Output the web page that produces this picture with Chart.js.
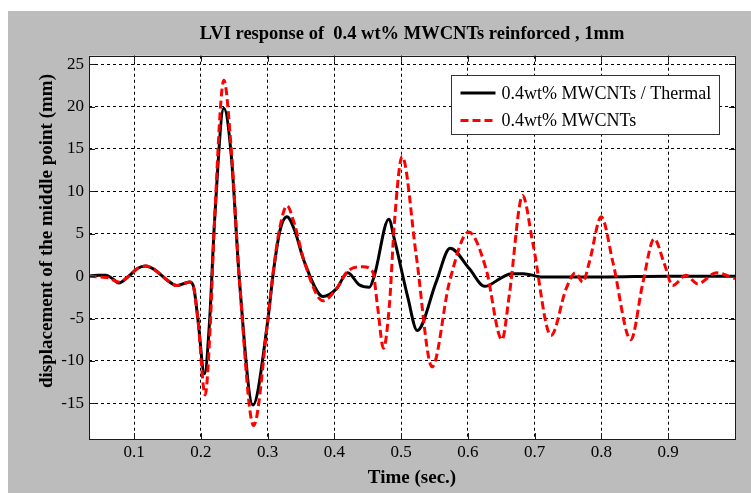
<!DOCTYPE html>
<html>
<head>
<meta charset="utf-8">
<title>LVI response</title>
<script src="https://cdn.jsdelivr.net/npm/chart.js@4.4.1/dist/chart.umd.min.js"></script>
<style>
  html, body { margin: 0; padding: 0; background: #fff; }
  #chart-box { width: 751px; height: 493px; }
</style>
</head>
<body>
<div id="chart-box"><canvas id="lvi-chart" width="751" height="493"></canvas></div>
<script>
/* -------------  DATA  ------------- */

const seriesLabels = ['0.4wt% MWCNTs / Thermal', '0.4wt% MWCNTs'];
const yAxisLabel = 'displacement of the middle point (mm)';

// thermal case (solid black)
const timeThermal = [0.032, 0.045, 0.058, 0.068, 0.077, 0.092, 0.105, 0.117, 0.13, 0.147,
  0.164, 0.177, 0.183, 0.189, 0.1955, 0.2055, 0.213, 0.2205, 0.2345, 0.2455,
  0.258, 0.278, 0.300, 0.308, 0.318, 0.329, 0.34, 0.355, 0.383, 0.403,
  0.420, 0.437, 0.4525, 0.46, 0.4815, 0.49, 0.51, 0.524, 0.5524, 0.5733,
  0.602, 0.625, 0.652, 0.665, 0.683, 0.712, 0.8, 0.9, 1.0];
const dispThermal = [0, 0.1, 0.1, -0.3, -0.8, 0, 0.9, 1.2, 0.8, -0.3,
  -1.1, -0.8, -0.7, -1.2, -5, -11.5, -5.4, 6.4, 19.8, 14.3,
  -0.7, -15.2, -5.4, 0.1, 5.2, 7.0, 5.5, 1.7, -2.4, -1.5,
  0.4, -1.0, -1.3, 0.1, 6.7, 4.3, -2.5, -6.4, -0.7, 3.3,
  0.9, -1.2, -0.1, 0.3, 0.3, -0.1, -0.1, 0, 0];

// case without thermal load (dashed red)
const timePlain = [0.032, 0.05, 0.062, 0.077, 0.092, 0.105, 0.117, 0.13, 0.147, 0.164,
  0.177, 0.183, 0.189, 0.1955, 0.2065, 0.214, 0.2205, 0.2345, 0.2455, 0.258,
  0.279, 0.300, 0.308, 0.318, 0.329, 0.34, 0.355, 0.383, 0.403, 0.42,
  0.4425, 0.4575, 0.465, 0.4735, 0.4825, 0.49, 0.5015, 0.5225, 0.5464, 0.5723,
  0.6012, 0.627, 0.651, 0.662, 0.682, 0.697, 0.7245, 0.747, 0.761, 0.772,
  0.782, 0.7997, 0.817, 0.844, 0.8617, 0.879, 0.894, 0.9066, 0.9266, 0.944,
  0.972, 1.0];
const dispPlain = [0, -0.1, -0.2, -0.7, 0, 0.9, 1.2, 0.8, -0.3, -1.1,
  -0.8, -0.7, -1.3, -5, -14.0, -6, 6.5, 23.1, 15, -0.7,
  -17.6, -5.4, 0.3, 5.6, 8.3, 6.2, 1.7, -2.9, -1.5, 0.6,
  1.1, 0.5, -3.8, -8.5, -3.3, 6.4, 14.1, 2.5, -10.7, -0.7,
  5.2, 0.9, -7.5, -2.2, 9.5, 4.0, -7.0, -1.5, 0.4, -0.7,
  1.7, 7.0, 1.7, -7.5, -0.9, 4.4, 1.5, -1.1, 0.1, -0.9,
  0.4, -0.3];

const xTicks = [0.1, 0.2, 0.3, 0.4, 0.5, 0.6, 0.7, 0.8, 0.9];
const yTicks = [-15, -10, -5, 0, 5, 10, 15, 20, 25];

const FONT = "'Liberation Serif', 'Times New Roman', serif";

/* -------------  HELPERS  ------------- */

function toPoints(times, values) {
  return times.map((t, i) => ({ x: t, y: values[i] }));
}

/**
 * Gray figure background, white axes area.
 */
const figureBackground = {
  id: 'figureBackground',
  beforeDraw(chart) {
    const { ctx, chartArea: a } = chart;
    ctx.save();
    ctx.fillStyle = '#fff';
    ctx.fillRect(0, 0, chart.width, chart.height);
    ctx.fillStyle = '#bcbcbc';
    ctx.fillRect(8, 11, chart.width - 8, chart.height - 11);
    ctx.fillStyle = '#fff';
    ctx.fillRect(a.left, a.top, a.right - a.left, a.bottom - a.top);
    ctx.restore();
  },
};

/**
 * Box round the axes, inward tick marks on all four sides, y label and the legend.
 */
const axesBox = {
  id: 'axesBox',
  afterDraw(chart) {
    const { ctx, chartArea: a, scales } = chart;
    const tickLen = 6;
    ctx.save();
    ctx.strokeStyle = '#1a1a1a';
    ctx.lineWidth = 1;
    ctx.setLineDash([]);
    ctx.beginPath();
    scales.x.ticks.forEach((t) => {
      const px = Math.round(scales.x.getPixelForValue(t.value)) + 0.5;
      ctx.moveTo(px, a.bottom); ctx.lineTo(px, a.bottom - tickLen);
      ctx.moveTo(px, a.top); ctx.lineTo(px, a.top + tickLen);
    });
    scales.y.ticks.forEach((t) => {
      const py = Math.round(scales.y.getPixelForValue(t.value)) + 0.5;
      ctx.moveTo(a.left, py); ctx.lineTo(a.left + tickLen, py);
      ctx.moveTo(a.right, py); ctx.lineTo(a.right - tickLen, py);
    });
    ctx.stroke();
    ctx.strokeRect(Math.round(a.left) + 0.5, Math.round(a.top) + 0.5,
      Math.round(a.right - a.left), Math.round(a.bottom - a.top));

    // y label, sits a little above the axis middle
    ctx.save();
    ctx.translate(47, 231);
    ctx.rotate(-Math.PI / 2);
    ctx.font = 'bold 19px ' + FONT;
    ctx.fillStyle = '#000';
    ctx.textAlign = 'center';
    ctx.textBaseline = 'middle';
    ctx.fillText(yAxisLabel, 0, 0);
    ctx.restore();

    // legend
    const box = { x: 451.5, y: 75.5, w: 268, h: 59 };
    ctx.fillStyle = '#fff';
    ctx.fillRect(box.x, box.y, box.w, box.h);
    ctx.strokeStyle = '#333';
    ctx.strokeRect(box.x, box.y, box.w, box.h);
    ctx.font = '18px ' + FONT;
    ctx.textBaseline = 'middle';
    ctx.textAlign = 'left';
    chart.data.datasets.forEach((ds, i) => {
      const rowY = box.y + 17.5 + i * 27.5;
      ctx.strokeStyle = ds.borderColor;
      ctx.lineWidth = ds.borderWidth;
      ctx.setLineDash(ds.borderDash || []);
      ctx.beginPath();
      ctx.moveTo(box.x + 9, rowY);
      ctx.lineTo(box.x + 44, rowY);
      ctx.stroke();
      ctx.setLineDash([]);
      ctx.fillStyle = '#000';
      ctx.fillText(ds.label, box.x + 50, rowY + 1);
    });
    ctx.restore();
  },
};

/* -------------  CHART  ------------- */

new Chart(document.getElementById('lvi-chart'), {
  type: 'line',
  data: {
    datasets: [
      {
        label: seriesLabels[0],
        data: toPoints(timeThermal, dispThermal),
        borderColor: '#000',
        borderWidth: 3,
        order: 1,
      },
      {
        label: seriesLabels[1],
        data: toPoints(timePlain, dispPlain),
        borderColor: '#ff0000',
        borderWidth: 3,
        borderDash: [8, 4],
        order: 0,
      },
    ],
  },
  options: {
    responsive: false,
    animation: false,
    events: [],
    elements: { point: { radius: 0 }, line: { cubicInterpolationMode: 'monotone', fill: false } },
    layout: { padding: { left: 0, right: 16, top: 0, bottom: 0 } },
    plugins: {
      legend: { display: false },
      tooltip: { enabled: false },
      title: {
        display: true,
        fullSize: false,
        text: 'LVI response of  0.4 wt% MWCNTs reinforced , 1mm',
        color: '#000',
        font: { family: FONT, size: 18.5, weight: 'bold' },
        padding: { top: 23, bottom: 10.5 },
      },
    },
    scales: {
      x: {
        type: 'linear',
        min: 0.0325,
        max: 1.0,
        afterBuildTicks: (s) => { s.ticks = xTicks.map((v) => ({ value: v })); },
        afterFit: (s) => { s.height = 54; },
        grid: { color: '#000', lineWidth: 1, drawTicks: false },
        border: { display: false, dash: [3, 3] },
        ticks: {
          color: '#000',
          padding: 3,
          font: { family: FONT, size: 17 },
          callback: (v) => v.toFixed(1),
        },
        title: {
          display: true,
          text: 'Time (sec.)',
          color: '#000',
          font: { family: FONT, size: 19, weight: 'bold' },
          padding: { top: 0, bottom: 4 },
        },
      },
      y: {
        min: -19.2,
        max: 26,
        afterBuildTicks: (s) => { s.ticks = yTicks.map((v) => ({ value: v })); },
        afterFit: (s) => { s.width = 89; },
        grid: { color: '#000', lineWidth: 1, drawTicks: false },
        border: { display: false, dash: [3, 3] },
        ticks: {
          color: '#000',
          padding: 5,
          font: { family: FONT, size: 17 },
          callback: (v) => String(v),
        },
      },
    },
  },
  plugins: [figureBackground, axesBox],
});
</script>
</body>
</html>
